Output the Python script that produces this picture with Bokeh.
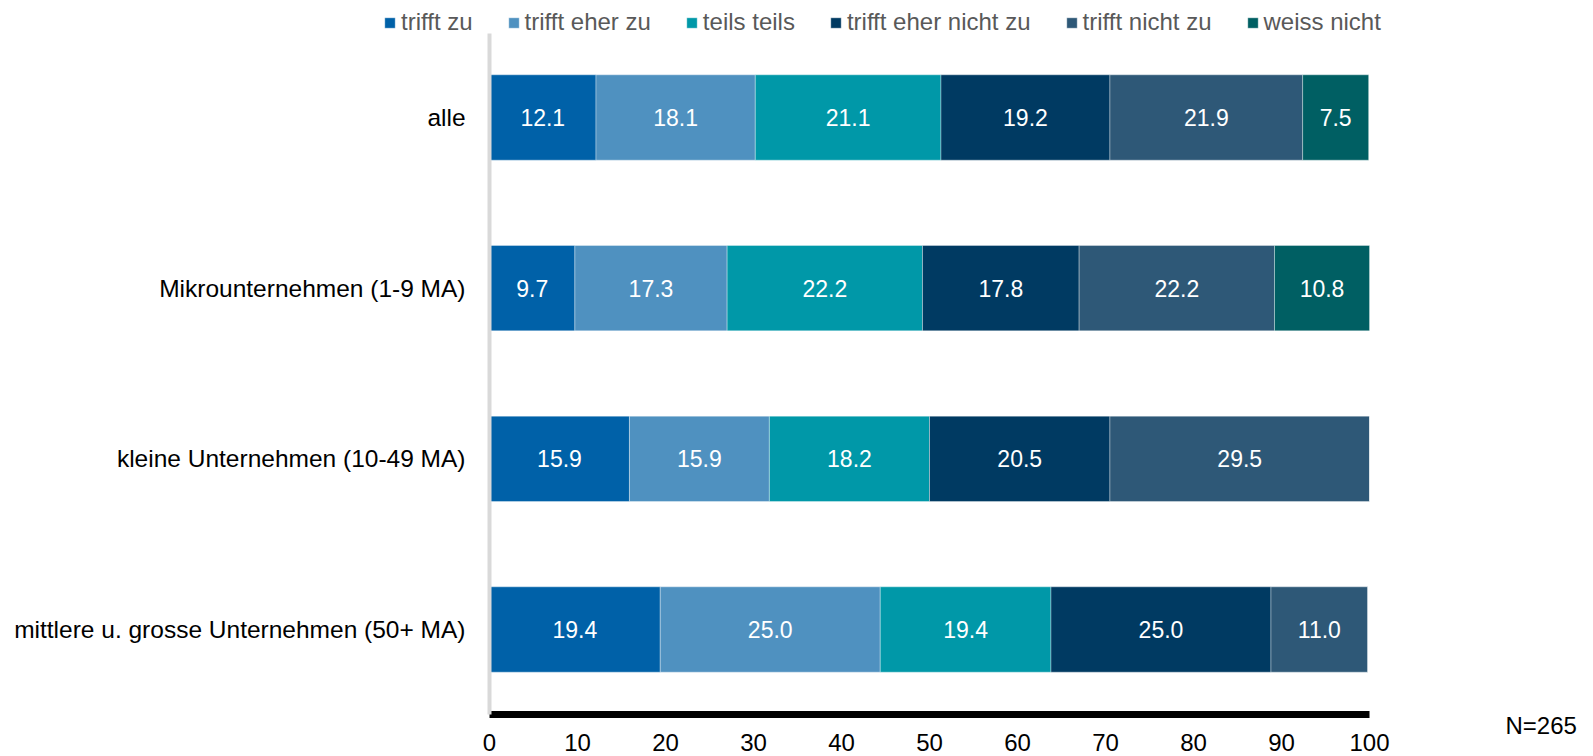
from bokeh.plotting import figure
from bokeh.models import ColumnDataSource, Range1d, Legend, LegendItem, FixedTicker, Label
from bokeh.core.properties import value
from bokeh.embed import file_html
from bokeh.resources import INLINE

# ---------------- data ----------------
categories = [
    "alle",
    "Mikrounternehmen (1-9 MA)",
    "kleine Unternehmen (10-49 MA)",
    "mittlere u. grosse Unternehmen (50+ MA)",
]
series_names = ["trifft zu", "trifft eher zu", "teils teils",
                "trifft eher nicht zu", "trifft nicht zu", "weiss nicht"]
trifft_zu = [12.1, 9.7, 15.9, 19.4]
trifft_eher_zu = [18.1, 17.3, 15.9, 25.0]
teils_teils = [21.1, 22.2, 18.2, 19.4]
trifft_eher_nicht_zu = [19.2, 17.8, 20.5, 25.0]
trifft_nicht_zu = [21.9, 22.2, 29.5, 11.0]
weiss_nicht = [7.5, 10.8, 0.0, 0.0]
x_ticks = [0, 10, 20, 30, 40, 50, 60, 70, 80, 90, 100]
note_text = "N=265"

# ---------------- style / layout ----------------
colors = ["#0061A8", "#4F91C0", "#0098A8", "#003A62", "#2E5877", "#005F63"]
FONT = "Liberation Sans"
W, H = 1593, 756

series_values = [trifft_zu, trifft_eher_zu, teils_teils,
                 trifft_eher_nicht_zu, trifft_nicht_zu, weiss_nicht]
keys = ["s%d" % i for i in range(len(series_names))]
n = len(categories)
positions = [n - 1 - i for i in range(n)]   # first category on top

data = {"cat": categories, "pos": positions}
for k, vals in zip(keys, series_values):
    data[k] = vals
source = ColumnDataSource(data)

p = figure(
    width=W, height=H,
    x_range=Range1d(-55.57, 125.45), y_range=Range1d(-0.7441, 3.6855),
    output_backend="svg", toolbar_location=None,
    min_border=0,
)
p.outline_line_color = None
p.xgrid.visible = False
p.ygrid.visible = False
p.background_fill_color = "white"
p.border_fill_color = "white"

renderers = p.hbar_stack(keys, y="pos", height=0.5, fill_color=colors, source=source,
                         line_color="white", line_alpha=0.35, line_width=1)

# value labels (centers computed from the data)
lx, ly, lt = [], [], []
for i in range(n):
    left = 0.0
    for vals in series_values:
        v = vals[i]
        if v > 0:
            lx.append(left + v / 2.0)
            ly.append(positions[i])
            lt.append("%.1f" % v)
        left += v
lab_src = ColumnDataSource(dict(x=lx, y=ly, t=lt))
p.text(x="x", y="y", text="t", source=lab_src, text_color="white",
       text_font=value(FONT), text_font_size="23px",
       text_align="center", text_baseline="middle")

# x axis (fixed inside the canvas)
xa = p.xaxis[0]
xa.fixed_location = -0.5
xa.bounds = (0, 100)
xa.ticker = FixedTicker(ticks=x_ticks)
xa.axis_line_color = "black"
xa.axis_line_width = 7
xa.major_tick_line_color = None
xa.minor_tick_line_color = None
xa.major_tick_out = 0
xa.major_tick_in = 0
xa.major_label_standoff = 19
xa.major_label_text_font = FONT
xa.major_label_text_font_size = "24px"
xa.major_label_text_color = "black"

# y axis (categories)
ya = p.yaxis[0]
ya.fixed_location = 0
ya.bounds = (-0.5, 3.494)
ya.ticker = FixedTicker(ticks=positions)
ya.major_label_overrides = {pos: cat for pos, cat in zip(positions, categories)}
ya.axis_line_color = "#d9d9d9"
ya.axis_line_width = 4
ya.major_tick_line_color = None
ya.minor_tick_line_color = None
ya.major_tick_out = 0
ya.major_tick_in = 0
ya.major_label_standoff = 24
ya.major_label_text_font = FONT
ya.major_label_text_font_size = "24.5px"
ya.major_label_text_color = "black"

# legend
items = [LegendItem(label=nm, renderers=[r]) for nm, r in zip(series_names, renderers)]
legend = Legend(
    items=items, orientation="horizontal", location=(383, H - 36),
    spacing=34, padding=0, margin=0, glyph_width=13, glyph_height=13,
    label_standoff=5, label_text_font=FONT, label_text_font_size="24px",
    label_text_color="#595959", border_line_color=None, background_fill_alpha=0,
    label_height=26,
)
p.add_layout(legend, "center")

note = Label(x=115.45, y=-0.565, text=note_text,
             text_font=FONT, text_font_size="24px", text_color="black",
             text_baseline="middle", text_align="left")
p.add_layout(note)

open("out.html", "w").write(file_html(p, INLINE))
